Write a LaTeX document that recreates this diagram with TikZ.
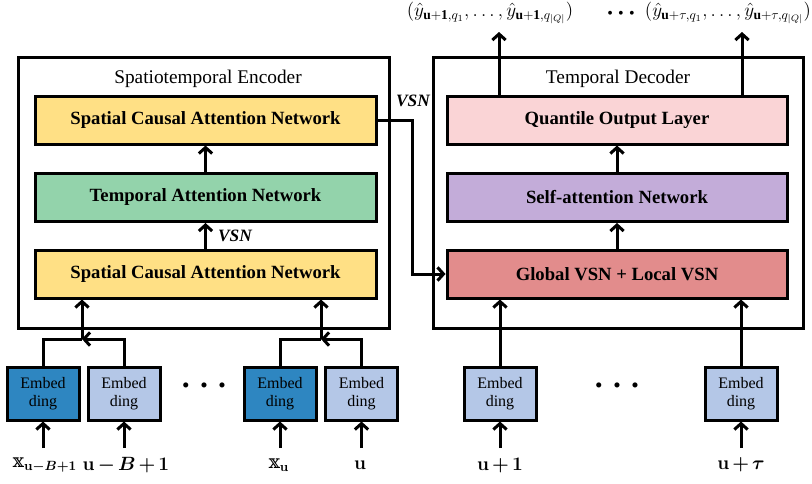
\documentclass[tikz,border=0pt]{standalone}
\usepackage{amsmath,amssymb,bm}
\usepackage{fontspec}
\setmainfont{Liberation Serif}
\newfontfamily\dsfont{DejaVu Serif}
\usetikzlibrary{arrows.meta}
\definecolor{cYellow}{RGB}{255,224,133}
\definecolor{cGreen}{RGB}{147,211,171}
\definecolor{cPink}{RGB}{250,212,214}
\definecolor{cPurple}{RGB}{195,172,217}
\definecolor{cRed}{RGB}{226,140,140}
\definecolor{cDark}{RGB}{46,134,193}
\definecolor{cLight}{RGB}{180,199,231}
\newcommand\pxl[1]{#1*0.75pt}
\newcommand\bbx{\text{\dsfont 𝕩}}
\newcommand\thinops{\medmuskip=2.5mu\relax}
\begin{document}
\begin{tikzpicture}[x=0.75pt,y=-0.75pt,
  outer/.style={draw, line width=2.25pt, minimum height=\pxl{271}},
  ttl/.style={font=\fontsize{14.5}{16}\selectfont},
  blk/.style={draw, line width=2.25pt, minimum height=\pxl{48}, font=\fontsize{14}{16}\selectfont\bfseries},
  emb/.style={draw, line width=2.25pt, minimum width=\pxl{72}, minimum height=\pxl{53}, align=center, font=\fontsize{12}{13}\selectfont},
  arr/.style={line width=2.25pt, -{Straight Barb[length=4.5pt,width=10pt]}},
  con/.style={line width=2.25pt},
  inlbl/.style={font=\fontsize{14}{16}\selectfont\boldmath},
  outlbl/.style={inner sep=0.5pt, font=\fontsize{14.5}{16}\selectfont},
  vsn/.style={font=\fontsize{13}{15}\selectfont\bfseries\itshape}]
\useasboundingbox (0,0) rectangle (812,483);

% outer boxes
\node[outer, minimum width=\pxl{371}] (enc) at (203.5,192.5) {};
\node[outer, minimum width=\pxl{370}] (dec) at (618,192.5) {};
\node[ttl] (enct) at (208,79) {Spatiotemporal Encoder};
\node[ttl] (dect) at (618,79) {Temporal Decoder};

% encoder blocks
\node[blk, fill=cYellow, minimum width=\pxl{341}] (scan2) at (205.5,120) {Spatial Causal Attention Network};
\node[blk, fill=cGreen,  minimum width=\pxl{341}] (tan)   at (205.5,197.5) {Temporal Attention Network};
\node[blk, fill=cYellow, minimum width=\pxl{341}] (scan1) at (205.5,274) {Spatial Causal Attention Network};

% decoder blocks
\node[blk, fill=cPink,   minimum width=\pxl{340}] (qol)  at (617,120) {Quantile Output Layer};
\node[blk, fill=cPurple, minimum width=\pxl{340}] (san)  at (617,197.5) {Self-attention Network};
\node[blk, fill=cRed,    minimum width=\pxl{340}] (gvsn) at (617,274) {Global VSN + Local VSN};

% internal arrows
\draw[arr] (scan1.north) -- (tan.south) node[vsn, midway, right, xshift=5pt] (vsn1) {VSN};
\draw[arr] (tan.north) -- (scan2.south);
\draw[arr] (gvsn.north) -- (san.south);
\draw[arr] (san.north) -- (qol.south);

% VSN link
\coordinate (vk) at (412,120);
\draw[arr] (scan2.east) -- (vk) |- (gvsn.west);
\node[vsn] (vsn2) at (413,101) {VSN};

% outputs
\coordinate (t1) at (499,32);
\coordinate (t2) at (742,32);
\draw[arr] (qol.north -| t1) -- (t1);
\draw[arr] (qol.north -| t2) -- (t2);
\node[outlbl] (o1) at (490,13) {$(\hat{y}_{\mathbf{u+1},q_1},\ldots,\hat{y}_{\mathbf{u+1},q_{|Q|}})$};
\node[outlbl] (o2) at (728,13) {$(\hat{y}_{\mathbf{u}+\tau,q_1},\ldots,\hat{y}_{\mathbf{u}+\tau,q_{|Q|}})$};
\node[inner sep=0.5pt, font=\fontsize{12}{14}\selectfont] (odots) at (621,15) {\textbullet\hspace{4pt}\textbullet\hspace{4pt}\textbullet};

% encoder embeddings
\node[emb, fill=cDark]  (e1) at (43,393.5) {Embed\\ding};
\node[emb, fill=cLight] (e2) at (124,393.5) {Embed\\ding};
\node[emb, fill=cDark]  (e3) at (280,393.5) {Embed\\ding};
\node[emb, fill=cLight] (e4) at (361.5,393.5) {Embed\\ding};
\node[font=\fontsize{16}{18}\selectfont] (edots) at (204,388) {\textbullet\hspace{8pt}\textbullet\hspace{8pt}\textbullet};

\coordinate (j1) at (82,339);
\coordinate (j2) at (321,339);
\draw[con] (e1.north) |- (j1);
\draw[arr] (e2.north) |- (j1);
\draw[arr] (j1) -- (scan1.south -| j1);
\draw[con] (e3.north) |- (j2);
\draw[arr] (e4.north) |- (j2);
\draw[arr] (j2) -- (scan1.south -| j2);

% decoder embeddings
\node[emb, fill=cLight] (d1) at (500,393.5) {Embed\\ding};
\node[emb, fill=cLight] (d2) at (741,393.5) {Embed\\ding};
\node[font=\fontsize{16}{18}\selectfont] (ddots) at (617,388) {\textbullet\hspace{8pt}\textbullet\hspace{8pt}\textbullet};
\draw[arr] (d1.north) -- (gvsn.south -| d1);
\draw[arr] (d2.north) -- (gvsn.south -| d2);

% inputs
\node[inlbl] (i1) at (45,465) {$\thinops\bbx_{\mathbf{u}-B+1}$};
\node[inlbl] (i2) at (126,465) {$\thinops\mathbf{u}-B+1$};
\node[inlbl] (i3) at (279,465) {$\bbx_{\mathbf{u}}$};
\node[inlbl] (i4) at (360,465) {$\mathbf{u}$};
\node[inlbl] (i5) at (500,465) {$\thinops\mathbf{u}+1$};
\node[inlbl] (i6) at (741,465) {$\thinops\mathbf{u}+\tau$};
\coordinate (s1) at (43,448);
\coordinate (s2) at (124,448);
\coordinate (s3) at (280,448);
\coordinate (s4) at (361.5,448);
\coordinate (s5) at (500,448);
\coordinate (s6) at (741,448);
\draw[arr] (s1) -- (e1.south);
\draw[arr] (s2) -- (e2.south);
\draw[arr] (s3) -- (e3.south);
\draw[arr] (s4) -- (e4.south);
\draw[arr] (s5) -- (d1.south);
\draw[arr] (s6) -- (d2.south);
\end{tikzpicture}
\end{document}
